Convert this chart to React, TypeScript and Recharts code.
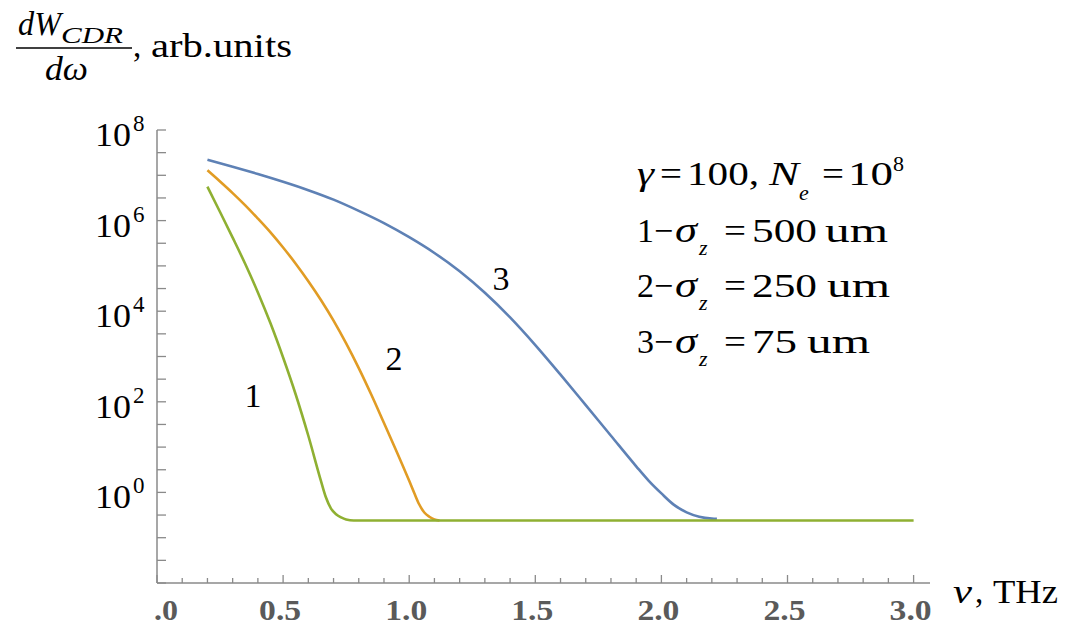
import { LineChart, Line, XAxis, YAxis } from "recharts";

// curve 1: sigma_z = 500 um
const nu1 = [0.2, 0.25, 0.3, 0.35, 0.4, 0.45, 0.5, 0.55, 0.6, 0.65, 0.67, 0.69, 0.71, 0.73, 0.75, 0.78, 1.0, 1.5, 2.0, 2.5, 3.0];
const w1 = [5.6e6, 1.55e6, 4.2e5, 1.1e5, 2.6e4, 5.4e3, 950, 145, 17.8, 1.8, 0.77, 0.44, 0.33, 0.28, 0.252, 0.24, 0.24, 0.24, 0.24, 0.24, 0.24];

// curve 2: sigma_z = 250 um
const nu2 = [0.2, 0.25, 0.3, 0.35, 0.4, 0.45, 0.5, 0.55, 0.6, 0.65, 0.7, 0.75, 0.8, 0.85, 0.9, 0.95, 1.0, 1.02, 1.04, 1.06, 1.08, 1.1, 1.12];
const w2 = [1.29e7, 7.3e6, 4.05e6, 2.17e6, 1.11e6, 5.5e5, 2.55e5, 1.12e5, 4.6e4, 1.77e4, 6.2e3, 1.95e3, 555, 143, 34, 8.0, 1.8, 0.97, 0.54, 0.36, 0.29, 0.252, 0.24];

// curve 3: sigma_z = 75 um
const nu3 = [0.2, 0.3, 0.4, 0.5, 0.6, 0.7, 0.8, 0.9, 1.0, 1.1, 1.2, 1.3, 1.4, 1.5, 1.6, 1.7, 1.8, 1.9, 1.95, 2.0, 2.05, 2.1, 2.15, 2.2, 2.22];
const w3 = [2.2e7, 1.55e7, 1.07e7, 7.2e6, 4.7e6, 2.9e6, 1.64e6, 8.8e5, 4.3e5, 1.93e5, 7.6e4, 2.55e4, 7.3e3, 1.79e3, 398, 84.5, 17.8, 3.77, 1.8, 0.95, 0.53, 0.363, 0.291, 0.264, 0.26];

const xTicks = Array.from({ length: 31 }, (_, i) => i / 10);
const yTicks = Array.from({ length: 21 }, (_, i) => Math.pow(10, (i - 4) / 2));

const toRows = (nu: number[], w: number[]) => nu.map((v, i) => ({ nu: v, w: w[i] }));

const SERIF = "Liberation Serif, Times New Roman, serif";
const AXIS = "#8a8a8a";

const XTick = (props: any) => {
  const { x, y, payload } = props;
  const v = payload.value as number;
  const major = Math.abs(v * 2 - Math.round(v * 2)) < 1e-6;
  return (
    <g>
      <line x1={x} y1={y} x2={x} y2={y - (major ? 8 : 5)} stroke={AXIS} strokeWidth={1.3} />
      {major && (
        <text
          x={x - 3}
          y={y + 37}
          textAnchor={v === 0 ? "start" : "middle"}
          fontFamily={SERIF}
          fontWeight="bold"
          fontSize={30}
          fill="#5a5a5a"
          textLength={v === 0 ? 24 : 42}
          lengthAdjust="spacingAndGlyphs"
        >
          {v === 0 ? ".0" : v.toFixed(1)}
        </text>
      )}
    </g>
  );
};

const YTick = (props: any) => {
  const { x, y, payload } = props;
  const e = Math.round(Math.log10(payload.value) * 2) / 2;
  const major = Number.isInteger(e) && e >= 0 && e % 2 === 0;
  return (
    <g>
      <line x1={x} y1={y} x2={x + 9} y2={y} stroke={AXIS} strokeWidth={1.3} />
      {major && (
        <>
          <text x={x - 26} y={y + 16} textAnchor="end" fontFamily={SERIF} fontSize={34}
            textLength={36} lengthAdjust="spacingAndGlyphs" fill="#000">
            10
          </text>
          <text x={x - 24} y={y + 1} fontFamily={SERIF} fontSize={23} fill="#000">
            {e}
          </text>
        </>
      )}
    </g>
  );
};

const It = (p: any) => <text fontFamily={SERIF} fontStyle="italic" fill="#000" {...p} />;
const Rm = (p: any) => <text fontFamily={SERIF} fill="#000" {...p} />;

const SigmaLine = ({ n, value, y, numW, umX }: { n: string; value: string; y: number; numW: number; umX: number }) => (
  <g>
    <Rm x={637} y={y} fontSize={34}>{n}</Rm>
    <Rm x={654} y={y} fontSize={34}>−</Rm>
    <It x={675} y={y} fontSize={36} textLength={22} lengthAdjust="spacingAndGlyphs">σ</It>
    <It x={699} y={y + 13} fontSize={22}>z</It>
    <Rm x={724} y={y} fontSize={34} textLength={22} lengthAdjust="spacingAndGlyphs">=</Rm>
    <Rm x={752} y={y} fontSize={34} textLength={numW} lengthAdjust="spacingAndGlyphs">{value}</Rm>
    <Rm x={umX} y={y} fontSize={34} textLength={63} lengthAdjust="spacingAndGlyphs">um</Rm>
  </g>
);

const Annotations = () => (
  <svg width={1066} height={626} style={{ position: "absolute", left: 0, top: 0, pointerEvents: "none" }}>
    {/* dW_CDR / d omega, arb.units */}
    <It x={18} y={35} fontSize={33} textLength={43} lengthAdjust="spacingAndGlyphs">dW</It>
    <It x={61} y={43} fontSize={24} textLength={62} lengthAdjust="spacingAndGlyphs">CDR</It>
    <line x1={16} x2={132} y1={48} y2={48} stroke="#000" strokeWidth={1.6} />
    <It x={45} y={80} fontSize={33} textLength={43} lengthAdjust="spacingAndGlyphs">dω</It>
    <Rm x={133} y={57} fontSize={33}>,</Rm>
    <Rm x={151} y={57} fontSize={33} textLength={141} lengthAdjust="spacingAndGlyphs">arb.units</Rm>

    {/* parameters */}
    <It x={637} y={185} fontSize={34} textLength={17} lengthAdjust="spacingAndGlyphs">γ</It>
    <Rm x={660} y={185} fontSize={34} textLength={22} lengthAdjust="spacingAndGlyphs">=</Rm>
    <Rm x={687} y={185} fontSize={34} textLength={72} lengthAdjust="spacingAndGlyphs">100,</Rm>
    <It x={769} y={185} fontSize={34} textLength={30} lengthAdjust="spacingAndGlyphs">N</It>
    <It x={799} y={200} fontSize={22}>e</It>
    <Rm x={822} y={185} fontSize={34} textLength={22} lengthAdjust="spacingAndGlyphs">=</Rm>
    <Rm x={848} y={185} fontSize={34} textLength={45} lengthAdjust="spacingAndGlyphs">10</Rm>
    <Rm x={893} y={171} fontSize={22}>8</Rm>
    <SigmaLine n="1" value="500" y={242} numW={65} umX={825} />
    <SigmaLine n="2" value="250" y={297} numW={65} umX={827} />
    <SigmaLine n="3" value="75" y={353} numW={45} umX={807} />

    {/* curve numbers */}
    <Rm x={253} y={407} fontSize={34} textAnchor="middle">1</Rm>
    <Rm x={394} y={370} fontSize={34} textAnchor="middle">2</Rm>
    <Rm x={501} y={290} fontSize={34} textAnchor="middle">3</Rm>

    {/* x axis caption */}
    <It x={953} y={603} fontSize={34} textLength={19} lengthAdjust="spacingAndGlyphs">ν</It>
    <Rm x={975} y={603} fontSize={33}>,</Rm>
    <Rm x={993} y={603} fontSize={33} textLength={65} lengthAdjust="spacingAndGlyphs">THz</Rm>
  </svg>
);

export default function App() {
  return (
    <div style={{ position: "absolute", left: 0, top: 0, width: 1066, height: 626, background: "#fff" }}>
      <LineChart width={1066} height={626} margin={{ top: 130, right: 136, bottom: 0, left: 0 }}>
        <XAxis
          type="number"
          dataKey="nu"
          domain={[0, 3.065]}
          ticks={xTicks}
          interval={0}
          allowDataOverflow
          height={43}
          tickSize={0}
          tickMargin={0}
          tickLine={false}
          axisLine={{ stroke: AXIS, strokeWidth: 1.5 }}
          tick={<XTick />}
        />
        <YAxis
          type="number"
          scale="log"
          domain={[0.01, 1e8]}
          ticks={yTicks}
          interval={0}
          allowDataOverflow
          width={157}
          tickSize={0}
          tickMargin={0}
          tickLine={false}
          axisLine={{ stroke: AXIS, strokeWidth: 1.5 }}
          tick={<YTick />}
        />
        <Line data={toRows(nu3, w3)} dataKey="w" type="monotone" stroke="#5E81B5" strokeWidth={2.6} dot={false} isAnimationActive={false} />
        <Line data={toRows(nu2, w2)} dataKey="w" type="monotone" stroke="#E19C24" strokeWidth={2.6} dot={false} isAnimationActive={false} />
        <Line data={toRows(nu1, w1)} dataKey="w" type="monotone" stroke="#8FB032" strokeWidth={2.6} dot={false} isAnimationActive={false} />
      </LineChart>
      <Annotations />
    </div>
  );
}
